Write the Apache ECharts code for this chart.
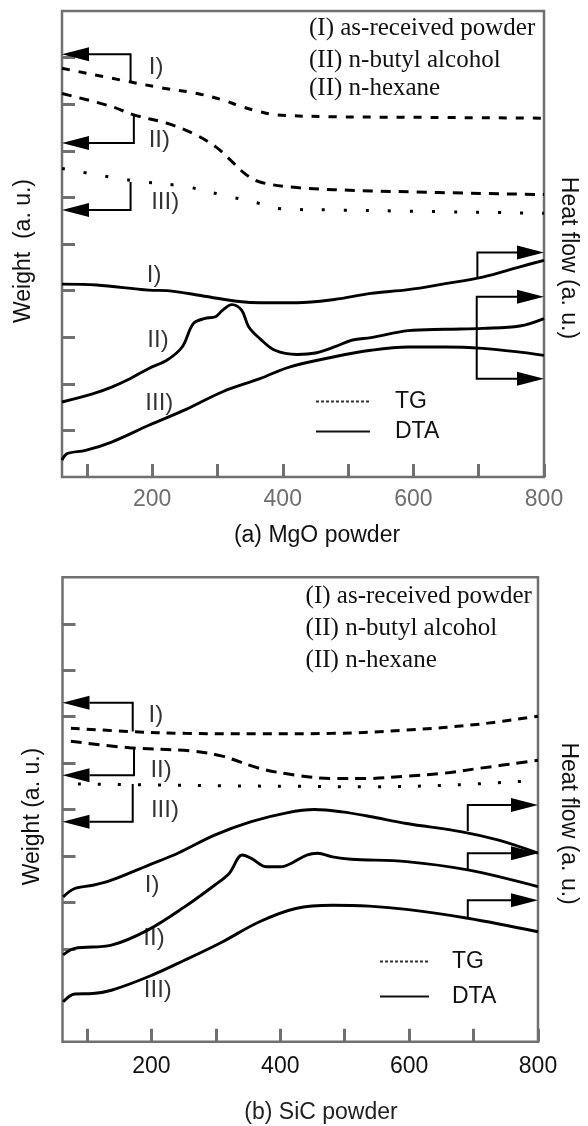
<!DOCTYPE html>
<html>
<head>
<meta charset="utf-8">
<title>TG / DTA</title>
<script src="https://cdn.jsdelivr.net/npm/echarts@6/dist/echarts.min.js"></script>
<style>
	html, body { margin: 0; padding: 0; background: #fff; }
	#chart { width: 588px; height: 1126px; }
</style>
</head>
<body>
<div id="chart"></div>
<script>
(function () {

	// 温度轴 (°C)
	var xMin = 62, xMax = 800;
	var xTicks = [100, 200, 300, 400, 500, 600, 700, 800];
	var xLabels = [200, 400, 600, 800];
	var mgoYTicks = [1, 2, 3, 4, 5, 6, 7, 8, 9];
	var sicYTicks = [2, 3, 4, 5, 6, 7, 8, 9];

	// (a) MgO powder  [温度, a.u.]
	var mgoTG1 = [[62, 8.77], [166, 8.48], [211, 8.36], [269, 8.23], [308, 8.09], [337, 7.95], [365, 7.84], [392, 7.77], [479, 7.73], [592, 7.72], [800, 7.70]];
	var mgoTG2 = [[62, 8.23], [138, 7.95], [172, 7.77], [223, 7.59], [263, 7.37], [297, 7.09], [320, 6.80], [342, 6.51], [365, 6.33], [422, 6.21], [535, 6.14], [800, 6.06]];
	var mgoTG3 = [[62, 6.62], [166, 6.37], [252, 6.23], [308, 6.05], [365, 5.87], [392, 5.76], [479, 5.73], [800, 5.66]];
	var mgoDTA1 = [[62, 4.14], [115, 4.12], [195, 4.01], [223, 4.00], [280, 3.88], [337, 3.76], [365, 3.74], [422, 3.74], [479, 3.81], [535, 3.94], [592, 4.02], [649, 4.15], [706, 4.29], [763, 4.51], [800, 4.65]];
	var mgoDTA2 = [[62, 1.61], [110, 1.79], [138, 1.93], [166, 2.11], [195, 2.33], [223, 2.51], [246, 2.79], [263, 3.29], [280, 3.40], [297, 3.44], [308, 3.58], [322, 3.70], [337, 3.58], [348, 3.22], [365, 2.97], [388, 2.72], [422, 2.63], [450, 2.66], [479, 2.79], [507, 2.94], [535, 2.99], [592, 3.14], [649, 3.17], [706, 3.19], [763, 3.24], [800, 3.40]];
	var mgoDTA3 = [[62, 0.36], [70, 0.50], [98, 0.57], [138, 0.75], [195, 1.11], [252, 1.45], [308, 1.83], [365, 2.11], [410, 2.36], [479, 2.58], [535, 2.72], [592, 2.79], [649, 2.79], [706, 2.76], [763, 2.68], [800, 2.61]];

	// (b) SiC powder
	var sicTG1 = [[75, 6.75], [166, 6.68], [252, 6.64], [367, 6.63], [481, 6.64], [596, 6.71], [710, 6.84], [800, 7.01]];
	var sicTG2 = [[75, 6.47], [166, 6.33], [264, 6.26], [310, 6.15], [367, 5.89], [424, 5.74], [481, 5.67], [538, 5.67], [596, 5.72], [653, 5.78], [710, 5.89], [800, 6.06]];
	var sicTG3 = [[86, 5.55], [200, 5.53], [310, 5.51], [424, 5.50], [538, 5.49], [653, 5.52], [790, 5.62]];
	var sicDTA1 = [[63, 3.12], [81, 3.30], [109, 3.37], [138, 3.48], [195, 3.80], [241, 4.06], [298, 4.45], [355, 4.74], [410, 4.93], [453, 5.00], [496, 4.95], [539, 4.85], [596, 4.70], [682, 4.52], [739, 4.34], [800, 4.06]];
	var sicDTA2 = [[63, 1.87], [81, 2.01], [138, 2.08], [195, 2.41], [252, 2.91], [298, 3.37], [321, 3.63], [341, 4.02], [355, 3.95], [378, 3.77], [401, 3.77], [418, 3.85], [441, 4.02], [458, 4.06], [481, 3.98], [510, 3.93], [596, 3.88], [691, 3.70], [800, 3.34]];
	var sicDTA3 = [[63, 0.86], [81, 1.03], [109, 1.04], [138, 1.11], [195, 1.40], [252, 1.76], [310, 2.15], [367, 2.58], [424, 2.87], [481, 2.94], [538, 2.92], [596, 2.85], [691, 2.66], [800, 2.37]];

	// 箭头: [拐角温度, 起点 y, 箭头 y, 方向 -1 左 / 1 右]
	var mgoArrows = [[167, 8.50, 9.07, -1], [172, 7.77, 7.17, -1], [167, 6.33, 5.73, -1], [698, 4.27, 4.82, 1], [697, 3.19, 3.87, 1], [697, 3.19, 2.11, 1]];
	var sicArrows = [[171, 6.68, 7.30, -1], [173, 6.32, 5.74, -1], [171, 5.55, 4.74, -1], [691, 4.54, 5.10, 1], [691, 3.70, 4.06, 1], [691, 2.66, 3.05, 1]];

	// 曲线编号
	var mgoTags = [[206, 8.80, 'I)'], [211, 7.23, 'II)'], [220, 5.90, 'III)'], [203, 4.33, 'I)'], [209, 2.94, 'II)'], [211, 1.58, 'III)']];
	var sicTags = [[207, 7.03, 'I)'], [215, 5.85, 'II)'], [221, 4.99, 'III)'], [201, 3.37, 'I)'], [204, 2.23, 'II)'], [210, 1.11, 'III)']];

	var sampleNotes = ['(I) as-received powder', '(II) n-butyl alcohol', '(II) n-hexane'];

	var sans = '"Liberation Sans", Arial, Helvetica, sans-serif';
	var serif = '"Liberation Serif", "Times New Roman", serif';
	var frame = '#707070';

	function renderArrow(params, api) {
		var dir = api.value(3);
		var from = api.coord([api.value(0), api.value(1)]);
		var corner = api.coord([api.value(0), api.value(2)]);
		var tipX = api.coord([dir < 0 ? xMin : xMax, api.value(2)])[0];
		var base = tipX - dir * 27;
		return {
			type: 'group',
			children: [
				{ type: 'polyline', shape: { points: [from, corner, [base, corner[1]]] }, style: { stroke: '#000', lineWidth: 2, fill: null } },
				{ type: 'polygon', shape: { points: [[tipX, corner[1]], [base, corner[1] - 7], [base, corner[1] + 7]] }, style: { fill: '#000' } }
			]
		};
	}

	function curve(data, idx, dash, width) {
		return {
			type: 'line', data: data, xAxisIndex: idx, yAxisIndex: idx * 2,
			smooth: 0.35, symbol: 'none', silent: true,
			lineStyle: { color: '#000', width: width || 2.9, type: dash || 'solid', cap: 'butt' }
		};
	}

	function tags(data, idx) {
		return {
			type: 'scatter', xAxisIndex: idx, yAxisIndex: idx * 2, symbolSize: 1, silent: true,
			itemStyle: { color: 'rgba(0,0,0,0)' },
			data: data.map(function (t) { return { value: [t[0], t[1]], name: t[2] }; }),
			label: { show: true, position: 'inside', formatter: '{b}', color: '#000', fontSize: 24, fontFamily: sans }
		};
	}

	function xAxisFor(idx, labelColor, margin) {
		return {
			type: 'value', gridIndex: idx, min: xMin, max: xMax,
			axisLine: { show: false }, splitLine: { show: false },
			axisTick: { inside: true, length: 13, customValues: xTicks, lineStyle: { color: frame, width: 3 } },
			axisLabel: { customValues: xLabels, color: labelColor, fontSize: 23, margin: margin, fontFamily: sans }
		};
	}

	function yAxesFor(idx, ticks, leftName, leftGap, rightGap) {
		return [{
			type: 'value', gridIndex: idx, min: 0, max: 10, position: 'left',
			axisLine: { show: false }, splitLine: { show: false }, axisLabel: { show: false },
			axisTick: { inside: true, length: 13, customValues: ticks, lineStyle: { color: frame, width: 3 } },
			name: leftName, nameLocation: 'middle', nameGap: leftGap, nameRotate: 90,
			nameTextStyle: { fontSize: 23, color: '#111', fontFamily: sans, padding: [0, 14, 0, 0] }
		}, {
			type: 'value', gridIndex: idx, min: 0, max: 10, position: 'right',
			axisLine: { show: false }, splitLine: { show: false }, axisLabel: { show: false }, axisTick: { show: false },
			name: 'Heat flow (a. u.)', nameLocation: 'middle', nameGap: rightGap, nameRotate: -90,
			nameTextStyle: { fontSize: 23, color: '#111', fontFamily: sans, padding: [0, 0, 0, 28] }
		}];
	}

	function notes(x, ys) {
		return sampleNotes.map(function (t, i) {
			return { type: 'text', x: x, y: ys[i], style: { text: t, fontSize: 25, fontFamily: serif, fill: '#111', verticalAlign: 'middle' } };
		});
	}

	var option = {
		animation: false,
		backgroundColor: '#fff',
		title: [
			{ text: '(a) MgO powder', left: 317, top: 524, textAlign: 'center', padding: 0, textStyle: { fontSize: 23, fontWeight: 'normal', color: '#111', fontFamily: sans } },
			{ text: '(b) SiC powder', left: 321, top: 1101, textAlign: 'center', padding: 0, textStyle: { fontSize: 23, fontWeight: 'normal', color: '#222', fontFamily: sans } }
		],
		legend: [
			{ data: ['TG', 'DTA'], orient: 'vertical', left: 315, top: 390, padding: 0, itemWidth: 54, itemHeight: 14, itemGap: 7, selectedMode: false,
			  itemStyle: { color: 'rgba(0,0,0,0)', borderWidth: 0 },
			  textStyle: { fontSize: 23, color: '#111', fontFamily: sans, padding: [0, 0, 0, 20] } },
			{ data: ['TG', 'DTA'], orient: 'vertical', left: 379, top: 950, padding: 0, itemWidth: 49, itemHeight: 14, itemGap: 12, selectedMode: false,
			  itemStyle: { color: 'rgba(0,0,0,0)', borderWidth: 0 },
			  textStyle: { fontSize: 23, color: '#111', fontFamily: sans, padding: [0, 0, 0, 18] } }
		],
		grid: [
			{ left: 62, top: 11, width: 488, height: 466, show: true, borderColor: frame, borderWidth: 2.5, backgroundColor: 'transparent' },
			{ left: 62.5, top: 577.3, width: 484, height: 464.5, show: true, borderColor: frame, borderWidth: 2.5, backgroundColor: 'transparent' }
		],
		xAxis: [xAxisFor(0, '#6e6e6e', 11), xAxisFor(1, '#111', 13)],
		yAxis: yAxesFor(0, mgoYTicks, 'Weight  (a. u.)', 27, 13).concat(yAxesFor(1, sicYTicks, 'Weight (a. u.)', 18, 19)),
		graphic: notes(309, [28.3, 60, 88.3]).concat(notes(305.6, [596.7, 628.3, 660])),
		series: [
			curve(mgoTG1, 0, [8, 9], 3), curve(mgoTG2, 0, [10, 8], 3), curve(mgoTG3, 0, [3, 19], 3),
			curve(mgoDTA1, 0), curve(mgoDTA2, 0), curve(mgoDTA3, 0),
			curve(sicTG1, 1, [9, 7], 3), curve(sicTG2, 1, [11, 7], 3), curve(sicTG3, 1, [3, 17], 3),
			curve(sicDTA1, 1), curve(sicDTA2, 1), curve(sicDTA3, 1),
			{ type: 'custom', xAxisIndex: 0, yAxisIndex: 0, renderItem: renderArrow, data: mgoArrows, clip: false, silent: true },
			{ type: 'custom', xAxisIndex: 1, yAxisIndex: 2, renderItem: renderArrow, data: sicArrows, clip: false, silent: true },
			tags(mgoTags, 0), tags(sicTags, 1),
			// 图例用
			{ name: 'TG', type: 'line', data: [], symbol: 'none', lineStyle: { color: '#333', width: 1.2, type: [3, 2] } },
			{ name: 'DTA', type: 'line', data: [], symbol: 'none', lineStyle: { color: '#111', width: 2 } }
		]
	};

	var chart = echarts.init(document.getElementById('chart'));
	chart.setOption(option);

})();
</script>
</body>
</html>
